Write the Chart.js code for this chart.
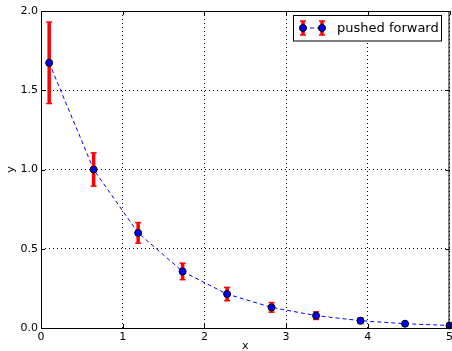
<!DOCTYPE html>
<html>
<head>
<meta charset="utf-8">
<script src="https://cdn.jsdelivr.net/npm/chart.js@4/dist/chart.umd.min.js"></script>
<style>
  html, body { margin: 0; padding: 0; background: #fff; overflow: hidden; }
  #wrap { width: 452px; height: 351px; overflow: hidden; }
</style>
</head>
<body>
<div id="wrap"><canvas id="chart" width="456" height="351"></canvas></div>
<script>
// values
const xValues = [0.1, 0.644, 1.189, 1.733, 2.278, 2.822, 3.367, 3.911, 4.456, 5.0];
const yValues = [1.673, 1.0, 0.6, 0.357, 0.214, 0.13, 0.078, 0.046, 0.027, 0.016];
const yErrors = [0.257, 0.105, 0.065, 0.052, 0.042, 0.03, 0.024, 0.018, 0.005, 0.003];

const xTickLabels = ["0", "1", "2", "3", "4", "5"];
const yTickLabels = ["0.0", "0.5", "1.0", "1.5", "2.0"];
const seriesLabel = "pushed forward";

const font = "'DejaVu Sans', sans-serif";

function line(ctx, x1, y1, x2, y2) {
  ctx.beginPath();
  ctx.moveTo(x1, y1);
  ctx.lineTo(x2, y2);
  ctx.stroke();
}

function errorBar(ctx, px, top, bot) {
  ctx.strokeStyle = "#ff0000";
  ctx.lineWidth = 3.5;
  line(ctx, px, top, px, bot);
  ctx.lineWidth = 1.5;
  line(ctx, px - 3, top, px + 3, top);
  line(ctx, px - 3, bot, px + 3, bot);
}

// red error bars, under the points
const errorBars = {
  id: "errorBars",
  beforeDatasetsDraw(chart) {
    const { ctx, scales: { x, y } } = chart;
    ctx.save();
    xValues.forEach((xv, i) => {
      const px = x.getPixelForValue(xv);
      const top = y.getPixelForValue(yValues[i] + yErrors[i]);
      const bot = y.getPixelForValue(yValues[i] - yErrors[i]);
      errorBar(ctx, px, top, bot);
    });
    ctx.restore();
  }
};

// inward ticks on all four sides + frame + legend
const frame = {
  id: "frame",
  afterDraw(chart) {
    const { ctx, chartArea: a, scales: { x, y } } = chart;
    ctx.save();
    ctx.strokeStyle = "#000";
    ctx.lineWidth = 1;
    x.ticks.forEach(t => {
      const px = Math.round(x.getPixelForValue(t.value)) + 0.5;
      line(ctx, px, a.bottom, px, a.bottom - 4);
      line(ctx, px, a.top, px, a.top + 4);
    });
    y.ticks.forEach(t => {
      const py = Math.round(y.getPixelForValue(t.value)) + 0.5;
      line(ctx, a.left, py, a.left + 4, py);
      line(ctx, a.right, py, a.right - 4, py);
    });
    ctx.strokeRect(a.left + 0.5, a.top + 0.5, a.right - a.left - 1, a.bottom - a.top);

    // legend
    const bx = 293.5, by = 15.5, bw = 148, bh = 25.5;
    ctx.fillStyle = "#fff";
    ctx.fillRect(bx, by, bw, bh);
    ctx.strokeRect(bx, by, bw, bh);
    const cy = 28;
    ctx.strokeStyle = "#0000ff";
    ctx.setLineDash([4, 3]);
    line(ctx, 303, cy, 322, cy);
    ctx.setLineDash([]);
    [303, 322].forEach(px => {
      errorBar(ctx, px, 21, 35);
      ctx.beginPath();
      ctx.arc(px, cy, 3.5, 0, Math.PI * 2);
      ctx.fillStyle = "#0000ff";
      ctx.fill();
      ctx.strokeStyle = "#000";
      ctx.lineWidth = 1;
      ctx.stroke();
    });
    ctx.fillStyle = "#000";
    ctx.font = "13px " + font;
    ctx.textBaseline = "middle";
    ctx.textAlign = "left";
    ctx.fillText(seriesLabel, 337, cy + 1);
    ctx.restore();
  }
};

const points = xValues.map((xv, i) => ({ x: xv, y: yValues[i] }));

const config = {
  type: "scatter",
  data: {
    datasets: [
      {
        label: seriesLabel,
        data: points,
        showLine: true,
        borderColor: "#0000ff",
        borderWidth: 1,
        borderDash: [4, 3],
        pointRadius: 3.5,
        pointBackgroundColor: "#0000ff",
        pointBorderColor: "#000",
        pointBorderWidth: 1,
        clip: 6
      }
    ]
  },
  options: {
    responsive: false,
    animation: false,
    layout: { padding: { top: 11, right: 0, left: 0, bottom: 0 } },
    plugins: { legend: { display: false }, tooltip: { enabled: false } },
    scales: {
      x: {
        type: "linear",
        min: 0,
        max: 5,
        afterFit(scale) {
          scale.height = 23;
        },
        ticks: {
          stepSize: 1,
          padding: 3,
          color: "#000",
          font: { family: font, size: 11 },
          maxRotation: 0,
          callback: (v, i) => xTickLabels[i]
        },
        grid: { color: "#000", lineWidth: 1, drawTicks: false },
        border: { display: false, dash: [1, 3] },
        title: {
          display: true,
          text: "x",
          color: "#000",
          font: { family: font, size: 11 },
          padding: { top: 0, bottom: -2 }
        }
      },
      y: {
        type: "linear",
        min: 0,
        max: 2,
        afterFit(scale) {
          scale.width = 41;
        },
        ticks: {
          stepSize: 0.5,
          padding: 3,
          color: "#000",
          font: { family: font, size: 11 },
          callback: (v, i) => yTickLabels[i]
        },
        grid: { color: "#000", lineWidth: 1, drawTicks: false },
        border: { display: false, dash: [1, 3] },
        title: {
          display: true,
          text: "y",
          color: "#000",
          font: { family: font, size: 11 },
          padding: { top: 5 }
        }
      }
    }
  },
  plugins: [errorBars, frame]
};

new Chart(document.getElementById("chart"), config);
</script>
</body>
</html>
